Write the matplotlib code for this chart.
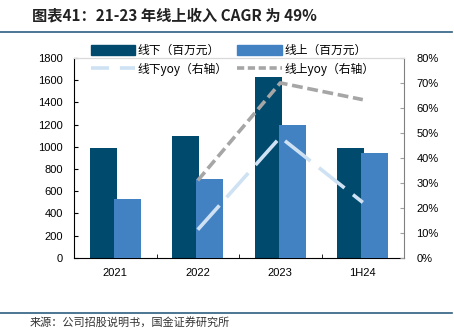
import matplotlib.pyplot as plt
import numpy as np
from matplotlib.lines import Line2D
from matplotlib.patches import Patch

plt.rcParams['font.family'] = ['Liberation Sans', 'Noto Sans CJK SC', 'DejaVu Sans']

categories = ['2021', '2022', '2023', '1H24']
offline = [985, 1098, 1625, 985]
online = [534, 706, 1198, 944]
offline_yoy = [None, 0.113, 0.483, 0.222]
online_yoy = [None, 0.310, 0.700, 0.633]

DARK = '#004a6e'
LIGHT = '#4382c2'
LINE_OFF = '#cfe2f3'
LINE_ON = '#a6a6a6'

fig = plt.figure(figsize=(4.54, 3.29), dpi=100)
ax = fig.add_axes([0.163, 0.216, 0.727, 0.608])
x = np.arange(len(categories))
w = 0.33
ax.bar(x - 0.145, offline, w, color=DARK, zorder=2)
ax.bar(x + 0.145, online, w, color=LIGHT, zorder=3)
ax.set_xlim(-0.5, 3.5)
ax.set_ylim(0, 1800)
ax.set_yticks(range(0, 1801, 200))
ax.set_xticks(x)
ax.set_xticklabels(categories)
ax.tick_params(axis='x', length=0, labelsize=8, pad=7)
ax.set_xticks([0.5, 1.5, 2.5], minor=True)
ax.tick_params(axis='x', which='minor', direction='in', length=3)
ax.tick_params(axis='y', direction='in', length=3, labelsize=8, pad=8)
ax.spines['top'].set_color('#d9d9d9')
ax.spines['right'].set_visible(False)

ax2 = ax.twinx()
xi = [i for i, v in enumerate(offline_yoy) if v is not None]
ax2.plot(xi, [offline_yoy[i] for i in xi], color=LINE_OFF, lw=2.6,
         dashes=(9, 3), zorder=4)
ax2.plot(xi, [online_yoy[i] for i in xi], color=LINE_ON, lw=2.6,
         dashes=(3, 1.3), zorder=4)
ax2.set_ylim(0, 0.8)
ax2.set_yticks(np.arange(0, 0.81, 0.1))
ax2.set_yticklabels([f'{int(round(t * 100))}%' for t in np.arange(0, 0.81, 0.1)])
ax2.tick_params(axis='y', direction='in', length=3, labelsize=8, pad=9,
                color='#a0a0a0')
ax2.spines['right'].set_color('#808080')
ax2.spines['top'].set_color('#d9d9d9')
ax2.spines['left'].set_visible(False)
ax2.spines['bottom'].set_visible(False)

handles = [Patch(color=DARK), Patch(color=LIGHT),
           Line2D([], [], color=LINE_OFF, lw=2.6, dashes=(5, 3)),
           Line2D([], [], color=LINE_ON, lw=2.6, dashes=(2, 1))]
labels = ['线下（百万元）', '线上（百万元）', '线下yoy（右轴）', '线上yoy（右轴）']
fig.legend([handles[0], handles[2], handles[1], handles[3]],
           [labels[0], labels[2], labels[1], labels[3]],
           ncol=2, loc='center', bbox_to_anchor=(0.512, 0.818), frameon=False,
           handlelength=3.8, handleheight=0.9, handletextpad=0.2,
           columnspacing=0.8, labelspacing=0.45,
           prop={'family': ['Noto Sans CJK SC'], 'size': 8.5})

fig.text(0.071, 0.953, '图表41：21-23 年线上收入 CAGR 为 49%', fontsize=11,
         fontweight='bold', style='italic', color='#222222',
         family=['Noto Sans CJK SC'], va='center')
fig.add_artist(Line2D([0, 0.995], [0.903, 0.903], color='#2e5f80', lw=1.2))
fig.add_artist(Line2D([0, 0.995], [0.048, 0.048], color='#2e5f80', lw=1.2))
fig.text(0.065, 0.004, '来源：公司招股说明书，国金证券研究所', fontsize=8,
         color='#333333', family=['Noto Sans CJK SC'], va='bottom')

fig.savefig('out.png', dpi=100)
